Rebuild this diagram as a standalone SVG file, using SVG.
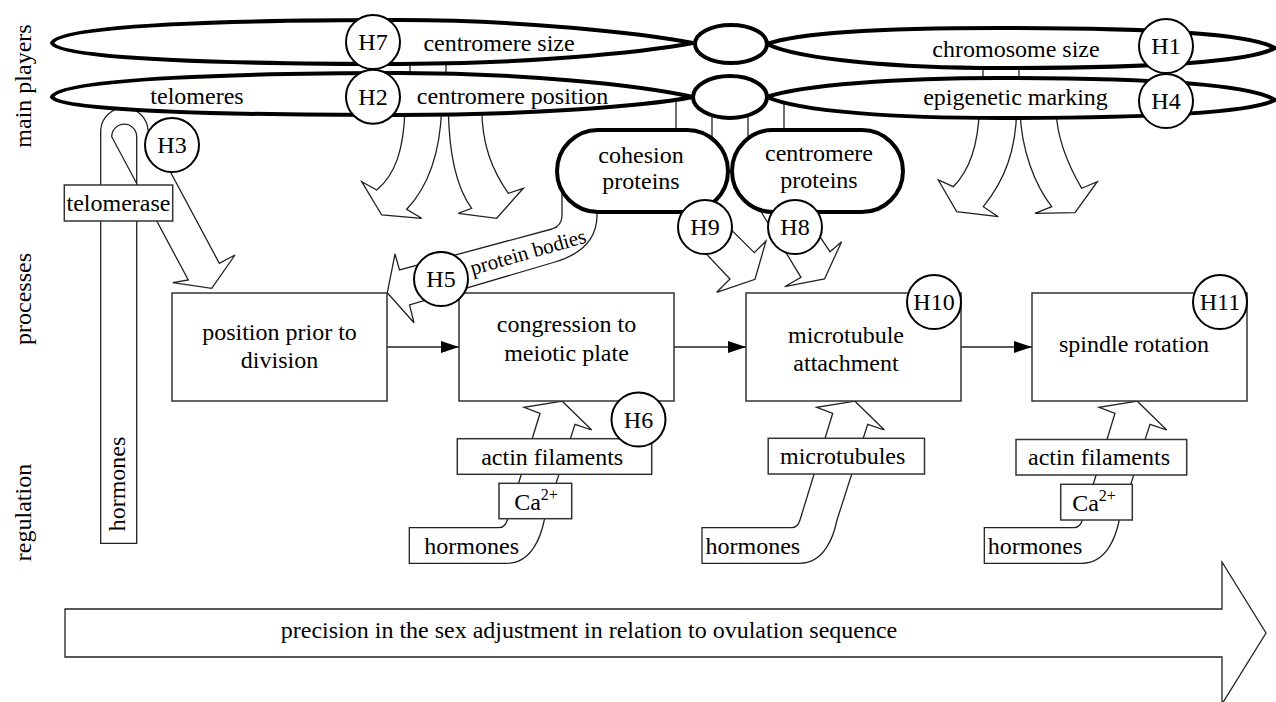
<svg xmlns="http://www.w3.org/2000/svg" width="1276" height="702" viewBox="0 0 1276 702" font-family="'Liberation Serif', 'DejaVu Serif', serif">
<style>
text{font-family:'Liberation Serif','DejaVu Serif',serif;font-size:24px;fill:#000}
.mid{text-anchor:middle}
.arm{fill:#fff;stroke:#000;stroke-width:4}
.pill{fill:#fff;stroke:#000;stroke-width:4}
.box{fill:#fff;stroke:#333;stroke-width:1.5}
.hc{fill:#fff;stroke:#000;stroke-width:2}
.ln{fill:none;stroke:#222;stroke-width:1.3}
.ba{fill:#fff;stroke:#222;stroke-width:1.3;stroke-linejoin:miter}
.sup{font-size:16px}
.pb{font-size:21px}
</style>
<defs>
<marker id="ah" markerUnits="userSpaceOnUse" markerWidth="18" markerHeight="12" refX="18" refY="6" orient="auto">
<path d="M0,0 L18,6 L0,12 Z" fill="#000"/>
</marker>
<path id="reg" class="ba" d="M409.3,527.7 H499 Q505,527.7 507.3,520 L540,413.3 L524,407.3 L562.3,401.2 L591.7,430 L575,424.3 L544.3,520 C541,536 532,563.3 506.7,563.3 H409.3 Z"/>
</defs>
<rect width="1276" height="702" fill="#fff"/>

<g id="side-labels">
<text class="mid" transform="translate(31,86) rotate(-90)">main players</text>
<text class="mid" transform="translate(31,299) rotate(-90)">processes</text>
<text class="mid" transform="translate(31,512.5) rotate(-90)">regulation</text>
</g>

<g id="connectors">
<line class="ln" x1="410" y1="55" x2="410" y2="80"/>
<line class="ln" x1="446" y1="55" x2="446" y2="80"/>
<line class="ln" x1="983" y1="60" x2="983" y2="85"/>
<line class="ln" x1="1019" y1="60" x2="1019" y2="85"/>
<line class="ln" x1="676" y1="100" x2="676" y2="135"/>
<line class="ln" x1="712" y1="110" x2="712" y2="145"/>
<line class="ln" x1="748" y1="110" x2="748" y2="145"/>
<line class="ln" x1="784" y1="100" x2="784" y2="135"/>
<path class="ba" d="M405,108 C404,150 395,175 376.7,190 L361.7,181.7 L381.7,215 L421.7,218.3 L406.7,209.3 C425,190 440,160 441.7,108 Z"/>
<path class="ba" d="M448.3,108 C449,160 458,190 471.7,208.3 L458.3,213.3 L496.7,218.3 L523.3,188.3 L508.3,193.3 C492,170 482,145 481.7,108 Z"/>
<path class="ba" d="M979.3,110 C978,150 968,172 953.3,186.7 L938.3,180 L956.7,211.7 L998.3,216.7 L983.3,206.7 C1005,180 1016,150 1016.7,110 Z"/>
<path class="ba" d="M1020,110 C1021,150 1035,185 1051.7,206.7 L1035,213.3 L1075,212.7 L1097.3,181.7 L1081.7,188.3 C1068,165 1057,140 1056,110 Z"/>
<path class="ba" d="M693.7,240.6 L730,279 L716.7,292.3 L755,279.3 L766,241 L754.3,252.7 L720.7,219.3 Z"/>
<path class="ba" d="M757,205 L801,277.3 L784.6,286.7 L824.5,279 L841.6,241.7 L830,251.7 L808,219 L790,205 Z"/>
<path id="protein-bodies-arrow" class="ba" d="M562,188 V215 Q562,226 552,229 L399.5,270 L395,254 L387.3,292.7 L414,322.7 L409.5,305 L555,262 Q597,249.6 597,215 V188 Z"/>
<path id="telomere-hairpin" class="ba" d="M100.7,543.3 V130 A23.7,23.7 0 0 1 148,130 L219.3,263.3 L235,255 L211.7,288.3 L172.7,282.7 L188.3,280 L111.7,136.7 A12.5,12.5 0 0 1 136.7,136.7 V543.3 Z"/>
<line class="ln" x1="387" y1="347" x2="459" y2="347" marker-end="url(#ah)"/>
<line class="ln" x1="674" y1="347" x2="746" y2="347" marker-end="url(#ah)"/>
<line class="ln" x1="961" y1="347" x2="1032" y2="347" marker-end="url(#ah)"/>
<use href="#reg"/>
<use href="#reg" x="292.7"/>
<use href="#reg" x="575"/>
</g>

<g id="chromosome-top">
<path class="arm" d="M693,43 C640,33 520,20 400,20 C250,20 60,24 52,43 C60,60 250,64 400,64 C520,64 640,53 693,43 Z"/>
<path class="arm" d="M767,44 C800,32 900,28 1000,28 C1150,28 1250,33 1275,48 C1250,62 1150,68 1000,68 C900,68 800,60 767,44 Z"/>
<ellipse class="arm" cx="731" cy="44" rx="36" ry="19"/>
<text class="mid" x="499" y="50.5">centromere size</text>
<text class="mid" x="1016" y="56.5">chromosome size</text>
</g>
<g id="chromosome-bottom">
<path class="arm" d="M693,97 C640,85 520,73 400,73 C250,73 60,78 52,97 C60,112 250,115 400,115 C520,115 640,107 693,97 Z"/>
<path class="arm" d="M767,97 C800,85 900,78 1000,78 C1150,78 1250,84 1275,100 C1250,113 1150,118 1000,118 C900,118 800,112 767,97 Z"/>
<ellipse class="arm" cx="730" cy="97" rx="37" ry="21"/>
<text class="mid" x="197" y="103.5">telomeres</text>
<text class="mid" x="512.5" y="103.5">centromere position</text>
<text class="mid" x="1015.5" y="105">epigenetic marking</text>
</g>

<g id="cohesion-proteins">
<rect class="pill" x="557" y="130" width="171" height="82" rx="41"/>
<text class="mid" x="641" y="163">cohesion</text>
<text class="mid" x="641" y="189">proteins</text>
</g>
<g id="centromere-proteins">
<rect class="pill" x="732" y="130" width="171" height="82" rx="41"/>
<text class="mid" x="819" y="161">centromere</text>
<text class="mid" x="819" y="187.5">proteins</text>
</g>

<g id="protein-bodies-label">
<text class="mid pb" transform="rotate(-16 528 252)" x="528" y="259">protein bodies</text>
</g>

<g id="hormones-column">
<text class="mid" transform="translate(125,484) rotate(-90)">hormones</text>
</g>
<g id="telomerase">
<rect class="box" x="64.3" y="185" width="108.4" height="36"/>
<text class="mid" x="118.5" y="210.5">telomerase</text>
</g>

<g id="position-prior-to-division">
<rect class="box" x="172" y="293" width="215" height="108"/>
<text class="mid" x="279.5" y="340">position prior to</text>
<text class="mid" x="279.5" y="368">division</text>
</g>
<g id="congression">
<rect class="box" x="459" y="293" width="215" height="108"/>
<text class="mid" x="566.5" y="332">congression to</text>
<text class="mid" x="566.5" y="360.5">meiotic plate</text>
</g>
<g id="microtubule-attachment">
<rect class="box" x="746" y="293" width="215" height="108"/>
<text class="mid" x="846" y="343">microtubule</text>
<text class="mid" x="846" y="370.5">attachment</text>
</g>
<g id="spindle-rotation">
<rect class="box" x="1032" y="293" width="215" height="108"/>
<text class="mid" x="1134" y="352">spindle rotation</text>
</g>

<g id="reg-congression">
<rect class="box" x="457.3" y="438.7" width="194.4" height="35.6"/>
<text class="mid" x="552.2" y="464.5">actin filaments</text>
<rect class="box" x="499" y="483.3" width="72.7" height="35.4"/>
<text class="mid" x="536" y="510">Ca<tspan class="sup" dy="-10">2+</tspan></text>
<text class="mid" x="471.7" y="553.5">hormones</text>
</g>
<g id="reg-microtubule">
<rect class="box" x="768.2" y="438.3" width="156.3" height="35.7"/>
<text class="mid" x="842.7" y="464">microtubules</text>
<text class="mid" x="752.8" y="553.5">hormones</text>
</g>
<g id="reg-spindle">
<rect class="box" x="1016" y="439.5" width="170.7" height="35.5"/>
<text class="mid" x="1099" y="465">actin filaments</text>
<rect class="box" x="1060.7" y="484.3" width="71.6" height="35.7"/>
<text class="mid" x="1094" y="511">Ca<tspan class="sup" dy="-10">2+</tspan></text>
<text class="mid" x="1035" y="553.5">hormones</text>
</g>

<g id="hypotheses">
<circle class="hc" cx="373" cy="42" r="27"/><text class="mid" x="373" y="50">H7</text>
<circle class="hc" cx="373" cy="96.7" r="27"/><text class="mid" x="373" y="104.7">H2</text>
<circle class="hc" cx="1166" cy="46" r="27"/><text class="mid" x="1166" y="54">H1</text>
<circle class="hc" cx="1166" cy="101" r="27"/><text class="mid" x="1166" y="109">H4</text>
<circle class="hc" cx="172" cy="145" r="27"/><text class="mid" x="172" y="153">H3</text>
<circle class="hc" cx="441" cy="279" r="27"/><text class="mid" x="441" y="287">H5</text>
<circle class="hc" cx="705" cy="227" r="27"/><text class="mid" x="705" y="235">H9</text>
<circle class="hc" cx="795" cy="227" r="27"/><text class="mid" x="795" y="235">H8</text>
<circle class="hc" cx="934" cy="302" r="27"/><text class="mid" x="934" y="310">H10</text>
<circle class="hc" cx="1220" cy="302" r="27"/><text class="mid" x="1220" y="310">H11</text>
<circle class="hc" cx="638.5" cy="419.5" r="27"/><text class="mid" x="638.5" y="427.5">H6</text>
</g>

<g id="precision-arrow">
<path class="ba" d="M65,609 H1222 V562 L1266,633 L1222,704 V657 H65 Z"/>
<text class="mid" x="589" y="638">precision in the sex adjustment in relation to ovulation sequence</text>
</g>
</svg>
